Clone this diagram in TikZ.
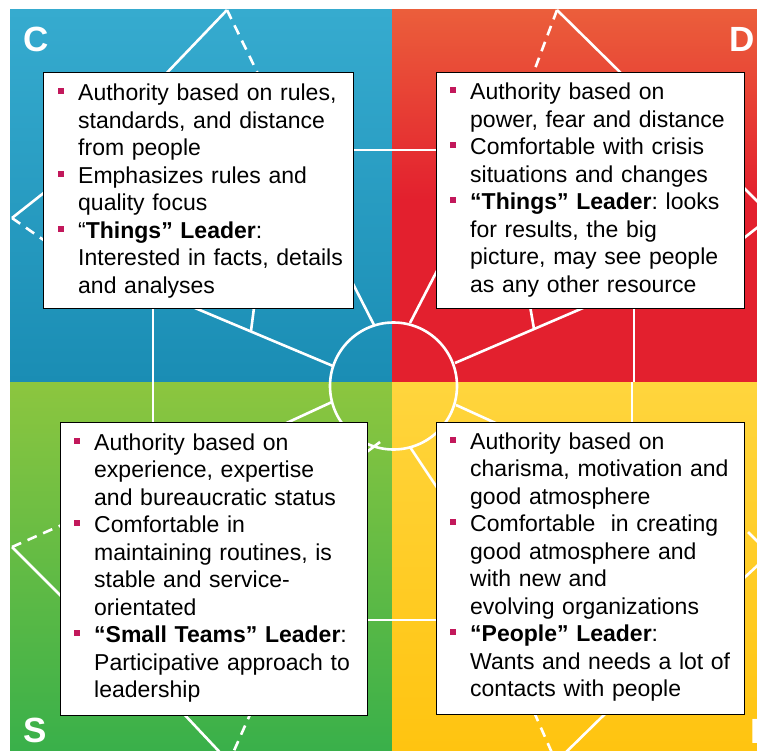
\documentclass[tikz,border=0pt]{standalone}
\usepackage{fontspec}
\setmainfont{Liberation Sans}
\definecolor{bulc}{HTML}{C2185B}
\definecolor{bluetop}{HTML}{36ABCF}
\definecolor{bluebot}{HTML}{1A8DB4}
\definecolor{redtop}{HTML}{EB5E3B}
\definecolor{redbot}{HTML}{E3202E}
\definecolor{greentop}{HTML}{8CC63F}
\definecolor{greenbot}{HTML}{39B04A}
\definecolor{yeltop}{HTML}{FFD53D}
\definecolor{yelbot}{HTML}{FFC410}
\newcommand\bul{\leavevmode\llap{\textcolor{bulc}{\rule[6.5pt]{6pt}{6pt}}\hspace{14.5pt}}}
\frenchspacing
\begin{document}
\begin{tikzpicture}[x=1pt,y=-1pt,
  wl/.style={white, line width=2.6pt},
  wd/.style={white, line width=2.6pt, dash pattern=on 10pt off 7pt},
  box/.style={draw=black, line width=1.4pt, fill=white, anchor=north west, inner sep=0pt},
  txt/.style={anchor=base west, inner sep=0pt, text width=300pt, align=left, font=\fontsize{23}{27.5}\selectfont\frenchspacing},
  letter/.style={anchor=base west, inner sep=0pt, text=white, font=\fontsize{35}{40}\selectfont\bfseries}]
\useasboundingbox (0,0) rectangle (757,751);
\fill[white] (0,0) rectangle (757,751);
% quadrants
\shade[top color=bluetop, bottom color=bluebot] (10,10) rectangle (392,382);
\fill[redbot] (392,10) rectangle (757,382);
\shade[top color=redtop, bottom color=redbot] (392,10) rectangle (757,200);
\shade[top color=greentop, bottom color=greenbot] (10,382) rectangle (392,751);
\shade[top color=yeltop, bottom color=yelbot] (392,382) rectangle (757,751);
% wheel lines
\begin{scope}
\clip (10,10) rectangle (757,751);
% C
\draw[wl] (227,10) -- (160,80);
\draw[wd] (227,10) -- (262,82);
\draw[wl] (12,218) -- (50,188);
\draw[wd] (12,218) -- (45,241);
\draw[wl] (153,300) -- (153,382);
\draw[wl] (340,150) -- (450,150);
\draw[wl] (333,366) -- (195,308);
\draw[wl] (251,331) -- (255,300);
\draw[wl] (374,325) -- (350,278);
% D
\draw[wd] (557,10) -- (530,82);
\draw[wl] (557,10) -- (628,80);
\draw[wl] (410,323) -- (440,265);
\draw[wl] (455,363) -- (590,305);
\draw[wl] (534,329) -- (529,300);
\draw[wl] (634,300) -- (634,382);
\draw[wl] (740,184) -- (772,216);
\draw[wl] (744,238) -- (772,216);
% S
\draw[wl] (153,382) -- (153,430);
\draw[wl] (332,402) -- (280,426);
\draw[wl] (380,442) -- (360,457);
\draw[wl] (360,620) -- (440,620);
\draw[wl] (12,547) -- (65,600);
\draw[wd] (12,547) -- (64,524);
\draw[wl] (182,712) -- (229,762);
\draw[wd] (252,710) -- (229,762);
% I
\draw[wl] (456,405) -- (500,425);
\draw[wl] (410,447) -- (440,492);
\draw[wl] (632,382) -- (632,430);
\draw[wl] (607,712) -- (556,762);
\draw[wd] (534,712) -- (556,762);
\draw[wl] (744,578) -- (770,554);
\draw[wl] (748,532) -- (770,554);
\end{scope}
\draw[wl] (393.5,386) circle (63.5pt);
% boxes
\node[box, minimum width=310pt, minimum height=236pt] (cbox) at (43,72) {};
\node[box, minimum width=308pt, minimum height=236pt] (dbox) at (436,72) {};
\node[box, minimum width=307pt, minimum height=293pt] (sbox) at (60,422) {};
\node[box, minimum width=308pt, minimum height=292pt] (ibox) at (436,422) {};
% texts
\node[txt] (ctext) at (78,101) {\bul Authority based on rules,\\
standards, and distance\\
from people\\
\bul Emphasizes rules and\\
quality focus\\
\bul “\textbf{Things” Leader}:\\
Interested in facts, details\\
and analyses};
\node[txt] (dtext) at (470,100) {\bul Authority based on\\
power, fear and distance\\
\bul Comfortable with crisis\\
situations and changes\\
\bul \textbf{“Things” Leader}: looks\\
for results, the big\\
picture, may see people\\
as any other resource};
\node[txt] (stext) at (94,450) {\bul Authority based on\\
experience, expertise\\
and bureaucratic status\\
\bul Comfortable in\\
maintaining routines, is\\
stable and service-\\
orientated\\
\bul \textbf{“Small Teams” Leader}:\\
Participative approach to\\
leadership};
\node[txt] (itext) at (470,449) {\bul Authority based on\\
charisma, motivation and\\
good atmosphere\\
\bul Comfortable~ in creating\\
good atmosphere and\\
with new and\\
evolving organizations\\
\bul \textbf{“People” Leader}:\\
Wants and needs a lot of\\
contacts with people};
% letters
\node[letter] (lc) at (23,52) {C};
\node[letter] (ld) at (729,52) {D};
\node[letter] (ls) at (23,742) {S};
\node[letter] (li) at (750,743) {I};
\end{tikzpicture}
\end{document}
